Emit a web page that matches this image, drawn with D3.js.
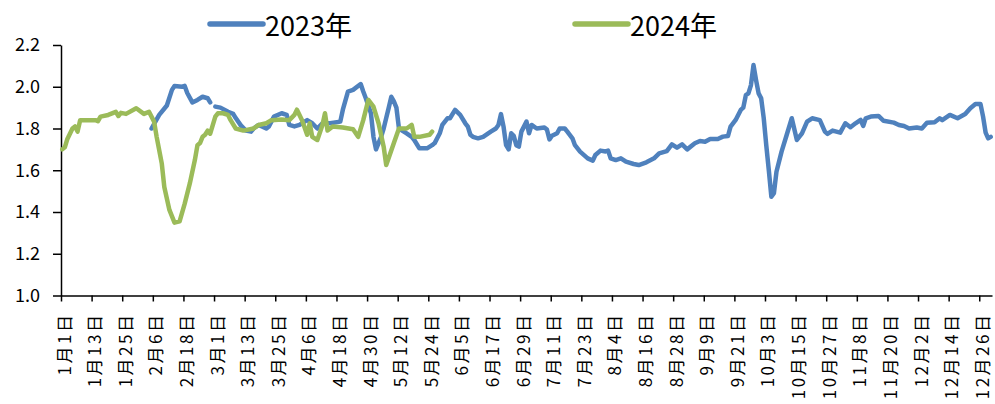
<!DOCTYPE html>
<html>
<head>
<meta charset="utf-8">
<script src="https://cdn.jsdelivr.net/npm/d3@7/dist/d3.min.js"></script>
<style>
  html, body { margin: 0; padding: 0; background: #fff; }
  svg { display: block; }
  text { font-family: "Noto Sans CJK SC", "Noto Sans", sans-serif; fill: #000; }
</style>
</head>
<body>
<svg id="chart" width="995" height="404"></svg>
<script>
// ---- data ----
const seriesNames = ["2023年", "2024年"];
const seriesColors = ["#4F81BD", "#9BBB59"];

const tickDays = [0,12,24,36,48,60,72,84,96,108,120,132,144,156,168,180,192,204,216,228,240,252,264,276,288,300,312,324,336,348,360];
const tickLabels = ["1月1日","1月13日","1月25日","2月6日","2月18日","3月1日","3月13日","3月25日","4月6日","4月18日","4月30日","5月12日","5月24日","6月5日","6月17日","6月29日","7月11日","7月23日","8月4日","8月16日","8月28日","9月9日","9月21日","10月3日","10月15日","10月27日","11月8日","11月20日","12月2日","12月14日","12月26日"];

const yTicks = [1.0, 1.2, 1.4, 1.6, 1.8, 2.0, 2.2];

// 2023 (day of year index, value); null = missing
const days2023 = [35,38,41,43,44,47,48,49,51,53,55,57,58,59,60,62,65,67,68,70,72,74,75,77,80,81,83,86,88,89,91,93,95,96,98,100,102,105,109,110,112,114,117,118,119,121,122,123,125,126,127,128,129,130,131,132,135,137,138,140,143,145,146,148,149,151,152,154,156,158,159,160,161,163,165,168,170,171,172,173,174,175,176,177,178,179,180,182,183,184,186,189,190,191,192,194,195,197,198,200,201,203,206,208,209,211,213,214,215,217,219,221,224,226,229,232,234,237,239,241,243,245,248,250,252,254,257,259,261,262,264,266,267,268,269,270,271,272,273,274,275,276,277,278,279,280,282,284,286,288,290,292,294,297,299,300,302,305,307,309,311,313,314,315,317,320,322,326,328,330,332,335,337,339,342,344,345,348,351,354,356,358,360,361,362,363,364];
const values2023 = [1.80,1.865,1.91,1.985,2.004,2.0,2.004,1.97,1.925,1.937,1.952,1.945,1.925,null,1.905,1.90,1.88,1.87,1.85,1.815,1.79,1.785,1.80,1.817,1.80,1.81,1.857,1.873,1.865,1.817,1.81,1.817,1.833,1.84,1.825,1.80,1.825,1.825,1.833,1.89,1.977,1.985,2.013,1.977,1.945,1.873,1.76,1.70,1.76,1.80,1.85,1.90,1.952,1.93,1.90,1.80,1.777,1.76,1.745,1.705,1.705,1.72,1.73,1.777,1.817,1.849,1.849,1.889,1.865,1.825,1.809,1.77,1.76,1.753,1.76,1.785,1.80,1.817,1.869,1.809,1.72,1.70,1.777,1.765,1.72,1.713,1.785,1.833,1.777,1.817,1.80,1.805,1.795,1.748,1.765,1.777,1.80,1.80,1.785,1.753,1.72,1.689,1.657,1.646,1.673,1.694,1.69,1.694,1.657,1.649,1.657,1.641,1.63,1.625,1.638,1.657,1.681,1.692,1.724,1.708,1.724,1.70,1.729,1.74,1.737,1.75,1.75,1.761,1.764,1.809,1.841,1.889,1.90,1.96,1.968,2.008,2.104,2.032,1.968,1.945,1.85,1.72,1.60,1.473,1.49,1.593,1.689,1.769,1.849,1.745,1.777,1.833,1.849,1.84,1.785,1.774,1.79,1.78,1.825,1.806,1.825,1.841,1.812,1.849,1.857,1.86,1.837,1.828,1.817,1.812,1.80,1.805,1.80,1.828,1.83,1.849,1.84,1.865,1.849,1.869,1.897,1.917,1.917,1.857,1.78,1.753,1.76];

// 2024
const days2024 = [0,1,2,4,5,6,7,13,14,15,18,21,22,23,25,29,32,34,36,37,39,40,42,44,46,48,50,52,53,54,55,56,57,58,60,61,63,65,66,68,71,75,77,80,82,86,89,91,92,94,96,97,98,100,102,103,104,106,110,114,116,118,120,122,124,126,127,128,130,132,135,137,138,140,144,145];
const values2024 = [1.70,1.71,1.75,1.80,1.81,1.785,1.84,1.84,1.835,1.857,1.865,1.88,1.86,1.875,1.87,1.897,1.87,1.88,1.833,1.76,1.633,1.52,1.41,1.349,1.355,1.44,1.537,1.65,1.72,1.73,1.76,1.77,1.79,1.775,1.857,1.873,1.873,1.865,1.84,1.80,1.79,1.80,1.817,1.825,1.84,1.843,1.84,1.865,1.89,1.84,1.77,1.825,1.76,1.745,1.817,1.873,1.79,1.81,1.805,1.796,1.76,1.84,1.937,1.905,1.825,1.713,1.625,1.66,1.73,1.80,1.80,1.817,1.76,1.76,1.77,1.785];

// ---- chart ----
const svg = d3.select("#chart");
const plotLeft = 61, plotRight = 992, plotTop = 45, plotBottom = 295.5;

const x = d3.scaleLinear().domain([0, 365]).range([plotLeft, plotRight]);
const y = d3.scaleLinear().domain([1.0, 2.2]).range([plotBottom, plotTop]);

// y axis
const yAxis = svg.append("g")
  .attr("transform", `translate(${plotLeft},0)`)
  .call(d3.axisLeft(y).tickValues(yTicks).tickFormat(d3.format(".1f")).tickSize(8).tickSizeOuter(0).tickPadding(13));
yAxis.selectAll("text").style("font-size", "18px").style("font-family", '"Noto Sans CJK SC", sans-serif');
yAxis.selectAll("line, path").attr("stroke", "#000").attr("stroke-width", 1.5);

// x axis
const xAxis = svg.append("g")
  .attr("transform", `translate(0,${plotBottom})`)
  .call(d3.axisBottom(x).tickValues(tickDays).tickFormat("").tickSize(6).tickSizeOuter(0));
xAxis.selectAll("line, path").attr("stroke", "#000").attr("stroke-width", 1.5);

svg.append("g").selectAll("text")
  .data(tickDays)
  .join("text")
  .attr("transform", d => `translate(${x(d) + 2},${plotBottom + 17}) rotate(-90)`)
  .attr("text-anchor", "end")
  .attr("dominant-baseline", "central")
  .style("font-size", "17px")
  .style("letter-spacing", "2.5px")
  .text((d, i) => tickLabels[i]);

// lines
const line = d3.line()
  .defined(d => d[1] !== null)
  .x(d => x(d[0] + 0.5))
  .y(d => y(d[1]));

const data2023 = days2023.map((d, i) => [d, values2023[i]]);
const data2024 = days2024.map((d, i) => [d, values2024[i]]);

[data2023, data2024].forEach((data, i) => {
  svg.append("path")
    .datum(data)
    .attr("fill", "none")
    .attr("stroke", seriesColors[i])
    .attr("stroke-width", 4.5)
    .attr("stroke-linejoin", "round")
    .attr("stroke-linecap", "round")
    .attr("d", line);
});

// legend
const legendX = [210, 575];
seriesNames.forEach((name, i) => {
  const g = svg.append("g").attr("transform", `translate(${legendX[i]},24)`);
  g.append("line").attr("x1", 0).attr("x2", 53).attr("y1", 0).attr("y2", 0)
    .attr("stroke", seriesColors[i]).attr("stroke-width", 5.5).attr("stroke-linecap", "round");
  g.append("text").attr("x", 55).attr("y", 0).attr("dominant-baseline", "central")
    .style("font-size", "27px").text(name);
});
</script>
</body>
</html>
